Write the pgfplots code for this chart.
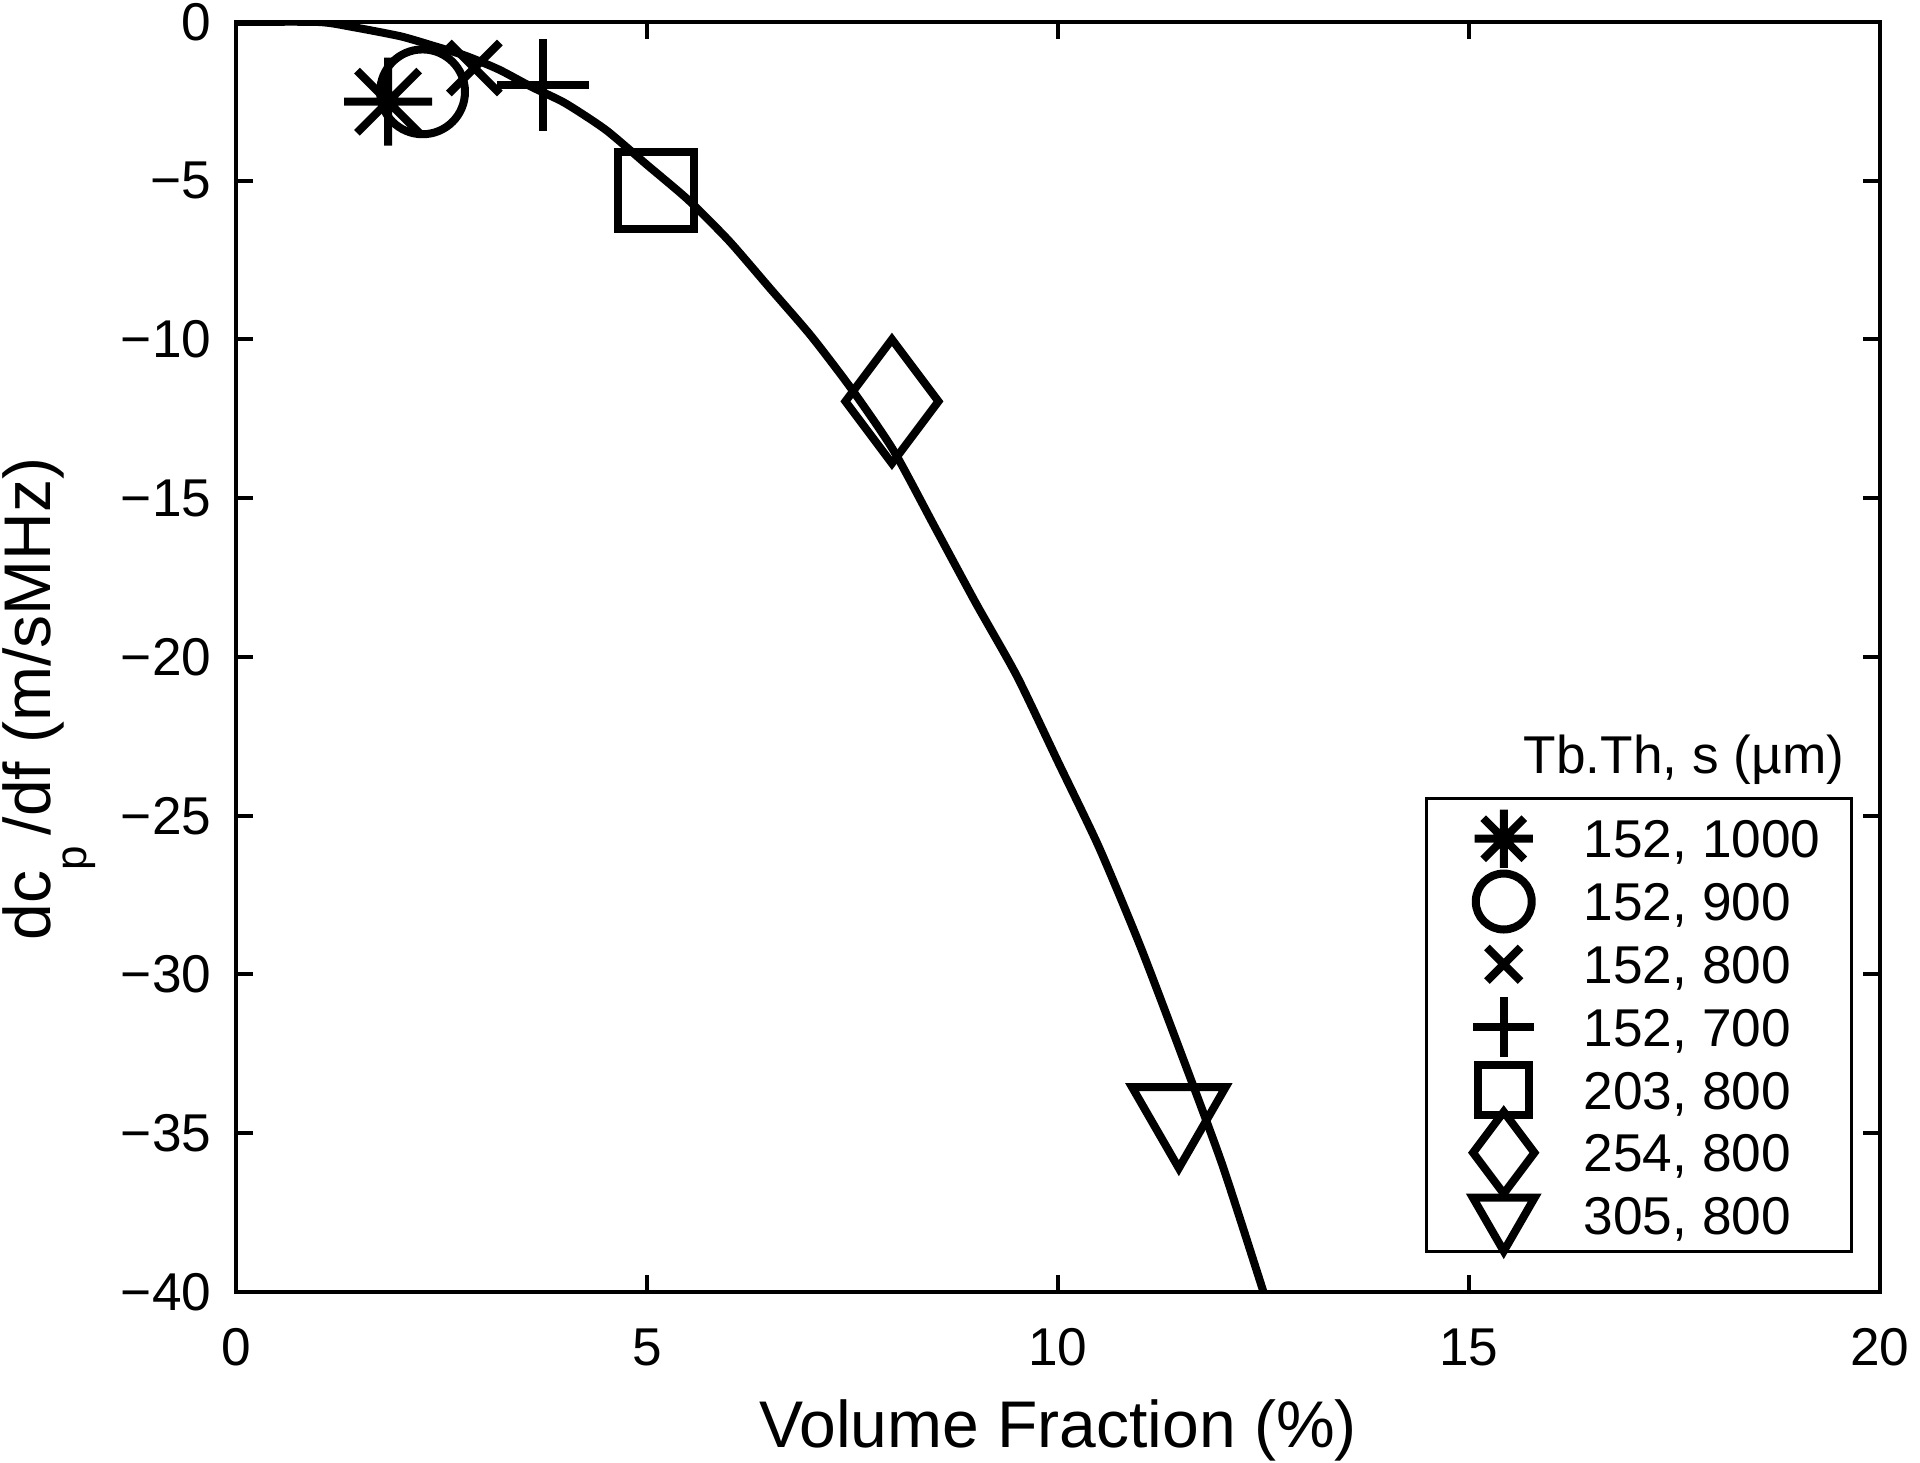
\documentclass[border=0pt]{standalone}
\usepackage{pgfplots}
\pgfplotsset{compat=1.18}
\usepackage{fontspec}
\setmainfont{Liberation Sans}

% MATLAB-style asterisk: + and x together
\pgfdeclareplotmark{ast8}{%
  \pgfpathmoveto{\pgfqpoint{0pt}{\pgfplotmarksize}}\pgfpathlineto{\pgfqpoint{0pt}{-\pgfplotmarksize}}%
  \pgfpathmoveto{\pgfqpoint{\pgfplotmarksize}{0pt}}\pgfpathlineto{\pgfqpoint{-\pgfplotmarksize}{0pt}}%
  \pgfpathmoveto{\pgfqpoint{.7071\pgfplotmarksize}{.7071\pgfplotmarksize}}\pgfpathlineto{\pgfqpoint{-.7071\pgfplotmarksize}{-.7071\pgfplotmarksize}}%
  \pgfpathmoveto{\pgfqpoint{-.7071\pgfplotmarksize}{.7071\pgfplotmarksize}}\pgfpathlineto{\pgfqpoint{.7071\pgfplotmarksize}{-.7071\pgfplotmarksize}}%
  \pgfusepathqstroke}

\pgfplotsset{
  mlegend/.style={legend image code/.code={%
    \begin{pgfinterruptboundingbox}
    \draw[##1,/tikz/only marks,/tikz/every mark/.append style={scale=0.66}]
      plot coordinates {(11.5pt,-0.5pt)};
    \end{pgfinterruptboundingbox}
    \path[draw=none,fill=none] (0pt,-1pt) rectangle (31.5pt,1pt);}},
  pt/.style={only marks, color=black, line width=2pt, mlegend},
}

\begin{document}
\begin{tikzpicture}
\begin{axis}[
  name=ax,
  width=411pt, height=317.5pt, scale only axis,
  xmin=0, xmax=20, ymin=-40, ymax=0,
  xtick={0,5,10,15,20}, xticklabels={0,5,10,15,20},
  ytick={-40,-35,-30,-25,-20,-15,-10,-5,0},
  yticklabels={−40,−35,−30,−25,−20,−15,−10,−5,0},
  tick align=inside, major tick length=4.3pt,
  axis line style={line width=1.1pt},
  major tick style={line width=1pt, black},
  tick label style={font=\fontsize{13.3}{16}\selectfont, inner sep=0pt},
  xticklabel style={yshift=-9pt},
  yticklabel style={xshift=-6pt},
  xlabel={Volume Fraction (\%)},
  xlabel style={font=\fontsize{16.5}{20}\selectfont, inner sep=0pt,
    at={(axis description cs:0.5,0)}, anchor=base, yshift=-39pt},
  ylabel={dc\raisebox{-0.55em}{\fontsize{11}{13}\selectfont p}\,/df (m/sMHz)},
  ylabel style={font=\fontsize{16.5}{20}\selectfont, inner sep=0pt,
    at={(axis description cs:-0.1131,0.467)}, anchor=base},
  legend cell align=left,
  legend style={at={(rel axis cs:0.9836,0.0306)}, anchor=south east,
    draw=black, line width=0.8pt, inner xsep=7.75pt, inner ysep=1.65pt,
    font=\fontsize{13.3}{16}\selectfont,
    nodes={inner sep=0pt, text height=13.15pt, text depth=2.55pt}, row sep=0pt},
]
\addplot[black, line width=2pt, no marks, smooth, tension=0.4, forget plot] coordinates {
  (0,0) (1,0) (1.4,-0.15) (2,-0.45) (2.4,-0.75) (2.8,-1.07) (3.2,-1.5)
  (3.6,-2.05) (4,-2.55) (4.5,-3.4) (5,-4.5) (5.5,-5.6) (6,-6.9) (6.5,-8.4)
  (7,-9.9) (7.5,-11.6) (8,-13.5) (8.5,-15.9) (9,-18.3) (9.5,-20.6)
  (10,-23.3) (10.5,-26) (11,-29.1) (11.5,-32.5) (12,-36) (12.5,-40)
};
\addplot[pt, mark=ast8, mark size=11pt] coordinates {(1.85,-2.51)};
\addlegendentry{152, 1000}
\addplot[pt, mark=o, mark size=10.6pt] coordinates {(2.27,-2.2)};
\addlegendentry{152, 900}
\addplot[pt, mark=x, mark size=9pt] coordinates {(2.9,-1.45)};
\addlegendentry{152, 800}
\addplot[pt, mark=+, mark size=11.5pt] coordinates {(3.74,-1.98)};
\addlegendentry{152, 700}
\addplot[pt, mark=square, mark size=9.6pt] coordinates {(5.11,-5.32)};
\addlegendentry{203, 800}
\addplot[pt, mark=diamond, mark size=15.5pt] coordinates {(7.98,-11.95)};
\addlegendentry{254, 800}
\addplot[pt, mark=triangle, mark size=13.5pt, mark options={rotate=180}] coordinates {(11.47,-34.4)};
\addlegendentry{305, 800}
\node[anchor=base east, font=\fontsize{13.3}{16}\selectfont, inner sep=0pt]
  at (rel axis cs:0.9787,0.408) {Tb.Th, s (µm)};
\end{axis}
\pgfresetboundingbox
\path ([shift={(-59pt,-42.75pt)}]ax.south west) rectangle ([shift={(10pt,5.5pt)}]ax.north east);
\end{tikzpicture}
\end{document}
